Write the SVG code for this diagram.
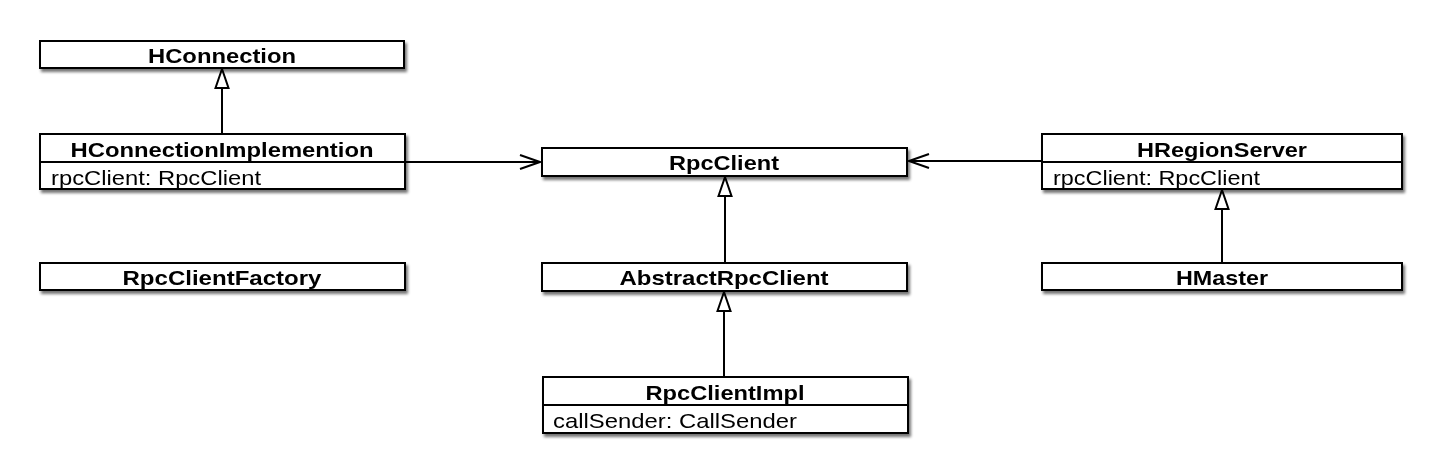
<svg xmlns="http://www.w3.org/2000/svg" width="1442" height="472" viewBox="0 0 1442 472">
<style>
.box{fill:#fff;stroke:#000;stroke-width:2}
.div{stroke:#000;stroke-width:2}
.name{font-family:"Liberation Sans",Arial,sans-serif;font-weight:bold;font-size:21px;fill:#000;text-anchor:middle}
.attr{font-family:"Liberation Sans",Arial,sans-serif;font-size:21px;fill:#000}
.edge{fill:none;stroke:#000;stroke-width:2}
</style>
<defs>
<filter id="sh" x="-5%" y="-20%" width="115%" height="160%">
<feGaussianBlur in="SourceAlpha" stdDeviation="1.5"/>
<feOffset dx="2" dy="3" result="b"/>
<feComponentTransfer><feFuncA type="linear" slope="0.55"/></feComponentTransfer>
<feMerge><feMergeNode/><feMergeNode in="SourceGraphic"/></feMerge>
</filter>
<marker id="tri" markerUnits="userSpaceOnUse" viewBox="-21 -8 22 16" refX="0" refY="0" markerWidth="22" markerHeight="16" orient="auto">
<path d="M0,0 L-19,-6.5 L-19,6.5 Z" fill="#fff" stroke="#000" stroke-width="2" stroke-linejoin="miter"/>
</marker>
<marker id="open" markerUnits="userSpaceOnUse" viewBox="-22 -9 23 18" refX="0" refY="0" markerWidth="23" markerHeight="18" orient="auto">
<path d="M-20,-7 L0,0 L-20,7" fill="none" stroke="#000" stroke-width="2"/>
</marker>
</defs>
<rect width="1442" height="472" fill="#fff"/>

<g id="connectors">
<line class="edge" x1="222" y1="134" x2="222" y2="69" marker-end="url(#tri)"/>
<line class="edge" x1="725" y1="263" x2="725" y2="177" marker-end="url(#tri)"/>
<line class="edge" x1="724" y1="377" x2="724" y2="292" marker-end="url(#tri)"/>
<line class="edge" x1="1222" y1="263" x2="1222" y2="190" marker-end="url(#tri)"/>
<line class="edge" x1="405" y1="162" x2="540" y2="162" marker-end="url(#open)"/>
<line class="edge" x1="1042" y1="161" x2="909" y2="161" marker-end="url(#open)"/>
</g>

<g id="HConnection" filter="url(#sh)">
<rect class="box" x="40" y="41" width="364" height="27"/>
<text class="name" x="222" y="63" textLength="148" lengthAdjust="spacingAndGlyphs">HConnection</text>
</g>

<g id="HConnectionImplemention" filter="url(#sh)">
<rect class="box" x="40" y="134" width="365" height="55"/>
<line class="div" x1="40" y1="162" x2="405" y2="162"/>
<text class="name" x="222" y="157" textLength="303" lengthAdjust="spacingAndGlyphs">HConnectionImplemention</text>
<text class="attr" x="51" y="184.5" textLength="210" lengthAdjust="spacingAndGlyphs">rpcClient: RpcClient</text>
</g>

<g id="RpcClientFactory" filter="url(#sh)">
<rect class="box" x="40" y="263" width="365" height="27"/>
<text class="name" x="222" y="285" textLength="199" lengthAdjust="spacingAndGlyphs">RpcClientFactory</text>
</g>

<g id="RpcClient" filter="url(#sh)">
<rect class="box" x="542" y="148" width="365" height="28"/>
<text class="name" x="724" y="170" textLength="110" lengthAdjust="spacingAndGlyphs">RpcClient</text>
</g>

<g id="AbstractRpcClient" filter="url(#sh)">
<rect class="box" x="542" y="263" width="365" height="28"/>
<text class="name" x="724" y="285" textLength="209" lengthAdjust="spacingAndGlyphs">AbstractRpcClient</text>
</g>

<g id="RpcClientImpl" filter="url(#sh)">
<rect class="box" x="543" y="377" width="365" height="56"/>
<line class="div" x1="543" y1="405" x2="908" y2="405"/>
<text class="name" x="725" y="400" textLength="159" lengthAdjust="spacingAndGlyphs">RpcClientImpl</text>
<text class="attr" x="553" y="427.5" textLength="244" lengthAdjust="spacingAndGlyphs">callSender: CallSender</text>
</g>

<g id="HRegionServer" filter="url(#sh)">
<rect class="box" x="1042" y="134" width="360" height="55"/>
<line class="div" x1="1042" y1="162" x2="1402" y2="162"/>
<text class="name" x="1222" y="157" textLength="170" lengthAdjust="spacingAndGlyphs">HRegionServer</text>
<text class="attr" x="1053" y="184.5" textLength="207" lengthAdjust="spacingAndGlyphs">rpcClient: RpcClient</text>
</g>

<g id="HMaster" filter="url(#sh)">
<rect class="box" x="1042" y="263" width="360" height="27"/>
<text class="name" x="1222" y="285" textLength="92" lengthAdjust="spacingAndGlyphs">HMaster</text>
</g>
</svg>
